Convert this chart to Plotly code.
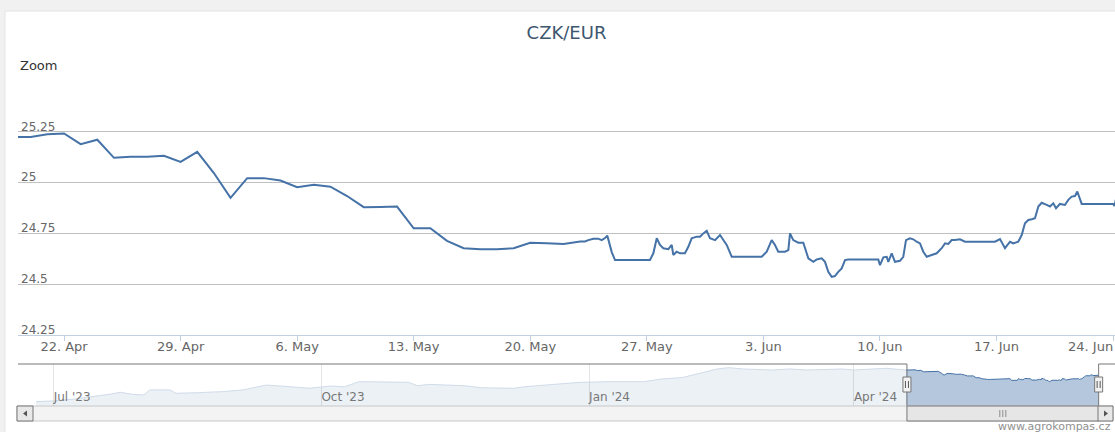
import plotly.graph_objects as go
import pandas as pd

TITLE = "CZK/EUR"

# ---- main series (CZK per EUR) ----
main_dates = [
    "2024-04-19", "2024-04-20", "2024-04-21", "2024-04-22", "2024-04-23", "2024-04-24",
    "2024-04-25", "2024-04-26", "2024-04-27", "2024-04-28", "2024-04-29", "2024-04-30",
    "2024-05-01", "2024-05-02", "2024-05-03", "2024-05-04", "2024-05-05", "2024-05-06",
    "2024-05-07", "2024-05-08", "2024-05-09", "2024-05-10", "2024-05-11", "2024-05-12",
    "2024-05-13", "2024-05-14", "2024-05-15", "2024-05-16", "2024-05-17", "2024-05-18",
    "2024-05-19", "2024-05-20", "2024-05-21", "2024-05-22", "2024-05-23",
    "2024-05-23 07:00", "2024-05-23 11:40", "2024-05-23 19:00", "2024-05-24 02:00",
    "2024-05-24 07:00", "2024-05-24 11:45", "2024-05-24 15:00", "2024-05-24 16:50",
    "2024-05-24 21:25", "2024-05-25 02:10", "2024-05-27 04:35", "2024-05-27 09:25",
    "2024-05-27 14:20", "2024-05-27 19:00", "2024-05-27 23:50", "2024-05-28 07:00",
    "2024-05-28 11:55", "2024-05-28 14:10", "2024-05-28 19:05", "2024-05-28 23:50",
    "2024-05-29 07:00", "2024-05-29 11:50", "2024-05-29 16:40", "2024-05-29 23:55",
    "2024-05-30 04:40", "2024-05-30 09:25", "2024-05-30 14:20", "2024-05-30 19:05",
    "2024-05-31 02:20", "2024-05-31 09:30", "2024-05-31 14:15", "2024-05-31 19:10",
    "2024-06-01 02:25", "2024-06-02 21:35", "2024-06-03 04:50", "2024-06-03 12:00",
    "2024-06-03 16:45", "2024-06-03 21:30", "2024-06-04 07:10", "2024-06-04 12:00",
    "2024-06-04 14:25", "2024-06-04 19:05", "2024-06-05 02:20", "2024-06-05 09:35",
    "2024-06-05 16:50", "2024-06-06 00:00", "2024-06-06 04:55", "2024-06-06 12:05",
    "2024-06-06 16:50", "2024-06-06 21:35", "2024-06-07 02:30", "2024-06-07 07:10",
    "2024-06-07 12:00", "2024-06-07 16:55", "2024-06-07 21:40", "2024-06-08 02:25",
    "2024-06-09 21:40", "2024-06-10 00:05", "2024-06-10 04:55", "2024-06-10 09:50",
    "2024-06-10 12:05", "2024-06-10 17:00", "2024-06-10 21:40", "2024-06-11 04:55",
    "2024-06-11 09:40", "2024-06-11 13:35", "2024-06-11 19:20", "2024-06-12 00:05",
    "2024-06-12 05:00", "2024-06-12 09:50", "2024-06-12 14:30", "2024-06-12 19:25",
    "2024-06-13 02:35", "2024-06-13 09:50", "2024-06-13 17:00", "2024-06-13 21:50",
    "2024-06-14 02:35", "2024-06-14 07:30", "2024-06-14 12:10", "2024-06-14 19:25",
    "2024-06-15 02:35", "2024-06-16 21:50", "2024-06-17 05:05", "2024-06-17 12:15",
    "2024-06-17 19:30", "2024-06-18 00:15", "2024-06-18 07:25", "2024-06-18 12:20",
    "2024-06-18 17:05", "2024-06-18 21:55", "2024-06-19 02:50", "2024-06-19 07:30",
    "2024-06-19 12:20", "2024-06-19 17:10", "2024-06-20 00:25", "2024-06-20 05:05",
    "2024-06-20 09:55", "2024-06-20 13:50", "2024-06-20 19:30", "2024-06-21 02:40",
    "2024-06-21 07:30", "2024-06-21 12:25", "2024-06-21 17:10", "2024-06-21 20:30",
    "2024-06-22 02:50", "2024-06-24 00:25", "2024-06-24 02:00", "2024-06-24 04:20",
]
main_vals = [
    25.225, 25.225, 25.238, 25.242, 25.189, 25.211,
    25.122, 25.127, 25.127, 25.132, 25.102, 25.151,
    25.047, 24.925, 25.022, 25.022, 25.010, 24.977,
    24.989, 24.980, 24.934, 24.879, 24.880, 24.882,
    24.775, 24.775, 24.713, 24.677, 24.672, 24.672,
    24.677, 24.704, 24.701, 24.698, 24.710,
    24.710, 24.717, 24.724, 24.724,
    24.717, 24.727, 24.739, 24.717,
    24.658, 24.619, 24.619, 24.652,
    24.726, 24.693, 24.677, 24.672,
    24.693, 24.644, 24.660, 24.652,
    24.652, 24.684, 24.726, 24.734,
    24.734, 24.750, 24.763, 24.726,
    24.717, 24.742, 24.717, 24.693,
    24.635, 24.635, 24.660, 24.717,
    24.693, 24.660, 24.660, 24.668,
    24.750, 24.717, 24.704, 24.704,
    24.627, 24.610, 24.622, 24.627,
    24.610, 24.561, 24.536, 24.540,
    24.561, 24.578, 24.619, 24.622,
    24.622, 24.594, 24.632, 24.635,
    24.610, 24.652, 24.610, 24.615,
    24.635, 24.717, 24.726, 24.721,
    24.709, 24.701, 24.660, 24.635,
    24.644, 24.652, 24.677, 24.701,
    24.698, 24.717, 24.717, 24.721,
    24.709, 24.709, 24.722, 24.677,
    24.709, 24.701, 24.709, 24.742,
    24.800, 24.816, 24.820, 24.825,
    24.882, 24.901, 24.890, 24.882,
    24.898, 24.874, 24.895, 24.890,
    24.915, 24.931, 24.934, 24.956,
    24.895, 24.895, 24.885, 24.920,
]

# ---- navigator (full-year overview) ----
nav_dates = [
    "2023-06-25", "2023-07-01", "2023-07-08", "2023-07-15", "2023-07-20", "2023-07-24",
    "2023-07-28", "2023-08-01", "2023-08-03", "2023-08-10", "2023-08-12", "2023-08-20",
    "2023-08-28", "2023-09-04", "2023-09-09", "2023-09-12", "2023-09-17", "2023-09-23",
    "2023-09-27", "2023-10-04", "2023-10-09", "2023-10-14", "2023-10-26", "2023-10-31",
    "2023-11-03", "2023-11-07", "2023-11-13", "2023-11-19", "2023-11-25", "2023-12-01",
    "2023-12-06", "2023-12-10", "2023-12-16", "2023-12-20", "2023-12-29", "2024-01-08",
    "2024-01-20", "2024-01-26", "2024-02-02", "2024-02-08", "2024-02-14", "2024-02-18",
    "2024-02-23", "2024-03-04", "2024-03-10", "2024-03-16", "2024-03-22", "2024-03-28",
    "2024-04-01", "2024-04-07", "2024-04-12",
]
nav_vals = [
    23.36, 23.40, 23.51, 23.65, 23.79, 23.91,
    23.79, 23.75, 24.05, 24.05, 23.85, 23.89,
    23.95, 24.05, 24.24, 24.34, 24.28, 24.20,
    24.15, 24.28, 24.24, 24.54, 24.54, 24.50,
    24.30, 24.38, 24.34, 24.30, 24.18, 24.15,
    24.15, 24.24, 24.30, 24.38, 24.50, 24.54,
    24.54, 24.70, 24.78, 25.03, 25.29, 25.37,
    25.29, 25.23, 25.29, 25.23, 25.27, 25.29,
    25.23, 25.29, 25.33,
]

y_tickvals = [24.25, 24.5, 24.75, 25, 25.25, 25.5]
y_ticktext = ["24.25", "24.5", "24.75", "25", "25.25", ""]

x_tick_dates = ["2024-04-22", "2024-04-29", "2024-05-06", "2024-05-13", "2024-05-20",
                "2024-05-27", "2024-06-03", "2024-06-10", "2024-06-17", "2024-06-24"]
x_tick_labels = ["22. Apr", "29. Apr", "6. May", "13. May", "20. May",
                 "27. May", "3. Jun", "10. Jun", "17. Jun", "24. Jun"]

view_start = "2024-04-19 05:40"
view_end = "2024-06-24 02:50"
nav_start = "2023-06-18 17:40"
nav_end = "2024-06-29 17:40"
nav_yrange = [23.10, 25.585]

# ---- geometry helpers (pixels -> paper) ----
W, H = 1115, 432
ML, MR, MT, MB = 18, 0, 81, 26
PW, PH = W - ML - MR, H - MT - MB


def pxx(x):
    return (x - ML) / PW


def pxy(y):
    return (H - MB - y) / PH


mid = pd.Timestamp(view_start) + (pd.Timestamp(view_end) - pd.Timestamp(view_start)) / 2
view_mid = mid.strftime("%Y-%m-%d %H:%M")

fig = go.Figure()

fig.add_trace(go.Scatter(
    x=main_dates, y=main_vals, mode="lines",
    line=dict(color="#4572A7", width=2),
    xaxis="x", yaxis="y", hoverinfo="skip", showlegend=False,
))

# navigator: unselected (faded) part
fig.add_trace(go.Scatter(
    x=nav_dates + main_dates[:1], y=nav_vals + main_vals[:1], mode="lines",
    line=dict(color="#D0DCE9", width=1), fill="tozeroy",
    fillcolor="rgba(69,114,167,0.10)",
    xaxis="x2", yaxis="y2", hoverinfo="skip", showlegend=False,
))
# navigator: selected part
fig.add_trace(go.Scatter(
    x=main_dates, y=main_vals, mode="lines",
    line=dict(color="#4572A7", width=1), fill="tozeroy",
    fillcolor="rgba(69,114,167,0.40)",
    xaxis="x2", yaxis="y2", hoverinfo="skip", showlegend=False,
))

shapes = []
# page background / container
shapes.append(dict(type="rect", xref="paper", yref="paper", layer="below",
                   x0=pxx(5), x1=pxx(1130), y0=pxy(445), y1=pxy(11),
                   fillcolor="white", line=dict(color="#E4E4E4", width=1)))

OUT = "#777777"
ytop, ybot = pxy(364), pxy(406)
# navigator outline
shapes += [
    dict(type="line", xref="x2", yref="paper", x0=nav_start, x1=view_start, y0=ytop, y1=ytop,
         line=dict(color=OUT, width=1)),
    dict(type="line", xref="x2", yref="paper", x0=view_start, x1=view_start, y0=ytop, y1=ybot,
         line=dict(color=OUT, width=1)),
    dict(type="line", xref="x2", yref="paper", x0=view_end, x1=view_end, y0=ytop, y1=ybot,
         line=dict(color=OUT, width=1)),
    dict(type="line", xref="x2", yref="paper", x0=view_end, x1=nav_end, y0=ytop, y1=ytop,
         line=dict(color=OUT, width=1)),
]

# scrollbar
sb0, sb1 = pxy(421), pxy(406)
shapes.append(dict(type="rect", xref="paper", yref="paper", x0=pxx(17), x1=pxx(1113),
                   y0=sb0, y1=sb1, fillcolor="#F3F3F3", line=dict(color="#C8C8C8", width=1)))
shapes.append(dict(type="rect", xref="x2", yref="paper", x0=view_start, x1=view_end,
                   y0=sb0, y1=sb1, fillcolor="#E6E6E6", line=dict(color="#777777", width=1)))
for dx in (-3, 0, 3):
    shapes.append(dict(type="line", xref="x2", yref="paper", xsizemode="pixel", xanchor=view_mid,
                       x0=dx, x1=dx, y0=pxy(417), y1=pxy(410),
                       line=dict(color="#8C8C8C", width=1)))
# arrow buttons
shapes.append(dict(type="rect", xref="paper", yref="paper", x0=pxx(17), x1=pxx(33),
                   y0=sb0, y1=sb1, fillcolor="#E8E8E8", line=dict(color="#777777", width=1)))
shapes.append(dict(type="rect", xref="paper", yref="paper", x0=pxx(1098), x1=pxx(1113),
                   y0=sb0, y1=sb1, fillcolor="#E8E8E8", line=dict(color="#777777", width=1)))
shapes.append(dict(type="path", xref="paper", yref="paper",
                   path=f"M {pxx(23)},{pxy(413.5)} L {pxx(27)},{pxy(410.5)} L {pxx(27)},{pxy(416.5)} Z",
                   fillcolor="#555555", line=dict(width=0)))
shapes.append(dict(type="path", xref="paper", yref="paper",
                   path=f"M {pxx(1108)},{pxy(413.5)} L {pxx(1104)},{pxy(410.5)} L {pxx(1104)},{pxy(416.5)} Z",
                   fillcolor="#555555", line=dict(width=0)))

# navigator handles
for anchor in (view_start, view_end):
    shapes.append(dict(type="rect", xref="x2", yref="paper", xsizemode="pixel", xanchor=anchor,
                       x0=-4, x1=4, y0=pxy(392), y1=pxy(377),
                       fillcolor="#F2F2F2", line=dict(color="#777777", width=1)))
    for dx in (-1.5, 1.5):
        shapes.append(dict(type="line", xref="x2", yref="paper", xsizemode="pixel", xanchor=anchor,
                           x0=dx, x1=dx, y0=pxy(388), y1=pxy(381),
                           line=dict(color="#555555", width=1)))

annotations = [
    dict(text="Zoom", xref="paper", yref="paper", x=0, y=pxy(66), xanchor="left", yanchor="middle",
         showarrow=False, font=dict(size=13, color="#333333")),
    dict(text="www.agrokompas.cz", xref="paper", yref="paper", x=pxx(1113), y=pxy(426),
         xanchor="right", yanchor="middle", showarrow=False,
         font=dict(size=11, color="#909090")),
    # last x tick label, justified inside the chart edge (as the original does)
    dict(text=x_tick_labels[-1], xref="paper", yref="paper", x=1, y=pxy(346),
         xanchor="right", yanchor="middle", showarrow=False,
         font=dict(size=13, color="#666666")),
]

FONT = "DejaVu Sans, Verdana, sans-serif"
fig.update_layout(
    width=W, height=H,
    margin=dict(l=ML, r=MR, t=MT, b=MB, autoexpand=False),
    paper_bgcolor="#F1F1F1", plot_bgcolor="white",
    font=dict(family=FONT, color="#666666"),
    title=dict(text=TITLE, x=0.5, xref="paper", xanchor="center", y=1 - 33 / H, yanchor="middle",
               font=dict(size=18, color="#3E576F", family=FONT)),
    showlegend=False,
    hovermode=False,
    shapes=shapes,
    annotations=annotations,
    xaxis=dict(
        domain=[0, 1], anchor="y", type="date", range=[view_start, view_end],
        tickmode="array", tickvals=x_tick_dates, ticktext=x_tick_labels[:-1] + [""],
        ticks="outside", ticklen=5, tickcolor="#C0D0E0",
        showline=True, linecolor="#C0D0E0", linewidth=1,
        showgrid=False, zeroline=False, automargin=False,
        ticklabelstandoff=-6,
        tickfont=dict(size=13, color="#666666"),
    ),
    yaxis=dict(
        domain=[pxy(335), 1], anchor="x", range=[24.25, 25.5],
        tickmode="array", tickvals=y_tickvals, ticktext=y_ticktext,
        ticklabelposition="inside top", ticks="", ticklabelshift=3,
        ticklabeloverflow="allow",
        showgrid=True, gridcolor="#C0C0C0", gridwidth=1,
        showline=False, zeroline=False, automargin=False,
        tickfont=dict(size=12, color="#666666"),
    ),
    xaxis2=dict(
        domain=[0, 1], anchor="y2", type="date", range=[nav_start, nav_end],
        tick0="2023-07-01", dtick="M3", tickformat="%b '%y",
        ticklabelposition="inside right", ticks="", ticklabelstandoff=-3,
        showgrid=True, gridcolor="#E4E4E4", showline=False, zeroline=False,
        automargin=False,
        tickfont=dict(size=12, color="#777777"),
    ),
    yaxis2=dict(
        domain=[0, pxy(364)], anchor="x2", range=nav_yrange,
        visible=False, showgrid=False, zeroline=False, automargin=False,
    ),
)

fig.write_html(
    "out.html",
    config={"displayModeBar": False},
    post_script="document.body.style.margin='0';document.body.style.overflow='hidden';",
)
